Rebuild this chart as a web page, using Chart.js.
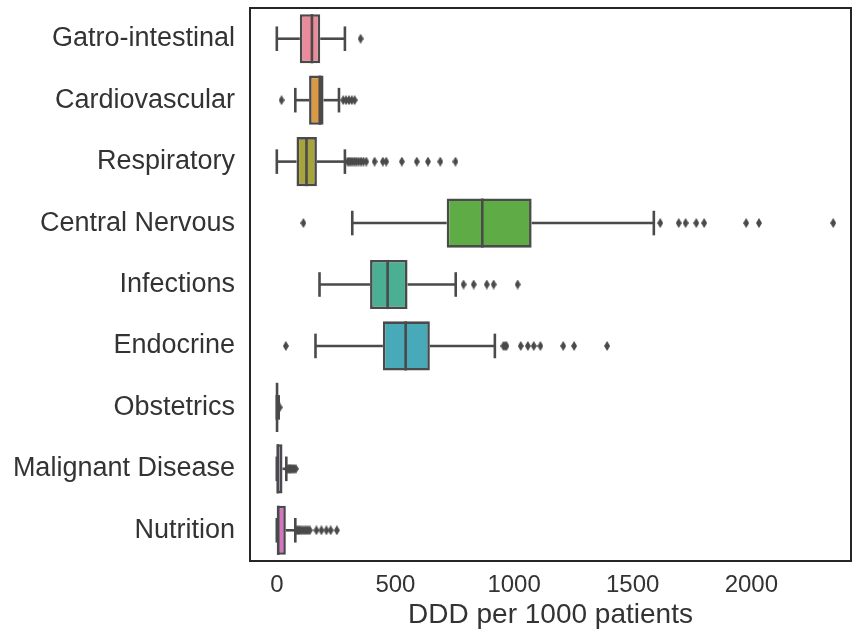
<!DOCTYPE html>
<html>
<head>
<meta charset="utf-8">
<script src="https://cdn.jsdelivr.net/npm/chart.js@4.4.1/dist/chart.umd.min.js"></script>
<style>
  html, body { margin: 0; padding: 0; background: #fff; }
  canvas { display: block; }
</style>
</head>
<body>
<canvas id="boxChart" width="856" height="634"></canvas>
<script>
// Categories and box statistics
var categories = ['Gatro-intestinal', 'Cardiovascular', 'Respiratory', 'Central Nervous',
    'Infections', 'Endocrine', 'Obstetrics', 'Malignant Disease', 'Nutrition'];
var whiskerLow  = [0,   78,  0,   318,  180, 163, 0, 0,  0];
var q1          = [97,  136, 83,  716,  393, 447, 0, 0,  0];
var median      = [148, 181, 125, 866,  467, 543, 1, 4,  6];
var q3          = [183, 197, 169, 1074, 551, 645, 4, 24, 38];
var whiskerHigh = [287, 262, 287, 1589, 754, 919, 8, 40, 78];
var outliers = [
    [353],
    [20, 280, 292, 304, 316, 328],
    [298, 305, 312, 320, 328, 336, 345, 355, 365, 377, 412, 447, 461, 527, 590, 637, 689, 753],
    [112, 1616, 1694, 1723, 1768, 1801, 1978, 2032, 2345],
    [787, 830, 885, 914, 1015],
    [38, 955, 962, 968, 1028, 1058, 1083, 1111, 1207, 1253, 1392],
    [12],
    [45, 50, 55, 60, 66, 72, 80],
    [83, 88, 94, 100, 107, 115, 123, 131, 139, 167, 188, 209, 227, 253]
];
var xTicks = [0, 500, 1000, 1500, 2000];

var boxColors = ['#ea8a9b', '#d99a45', '#a6a43d', '#5fab46', '#4aaf93',
    '#48aab8', '#6aa3dc', '#b08de0', '#d873c4'];
var lineColor = '#4a4a4a';
var fontFamily = '"Liberation Sans", Arial, sans-serif';

// thin diamond marker like matplotlib 'd'
function makeDiamond(w, h) {
    var c = document.createElement('canvas');
    c.width = w; c.height = h;
    var g = c.getContext('2d');
    g.fillStyle = lineColor;
    g.beginPath();
    g.moveTo(w / 2, 0);
    g.lineTo(w, h / 2);
    g.lineTo(w / 2, h);
    g.lineTo(0, h / 2);
    g.closePath();
    g.fill();
    return c;
}
var diamond = makeDiamond(6, 10);

var outlierPoints = [];
outliers.forEach(function (vals, i) {
    vals.forEach(function (v) {
        outlierPoints.push({ x: v, y: categories[i] });
    });
});

// whiskers, caps and medians drawn through the chart scales
var boxExtras = {
    id: 'boxExtras',
    afterDatasetsDraw: function (chart) {
        var ctx = chart.ctx;
        var xs = chart.scales.x, ys = chart.scales.y;
        var step = ys.getPixelForValue(1) - ys.getPixelForValue(0);
        var halfBox = step * 0.4, halfCap = step * 0.2;
        ctx.save();
        ctx.strokeStyle = lineColor;
        ctx.lineWidth = 2.6;
        ctx.lineCap = 'butt';
        categories.forEach(function (c, i) {
            var yc = ys.getPixelForValue(i);
            var pts = [
                [xs.getPixelForValue(whiskerLow[i]), yc, xs.getPixelForValue(q1[i]), yc],
                [xs.getPixelForValue(q3[i]), yc, xs.getPixelForValue(whiskerHigh[i]), yc],
                [xs.getPixelForValue(whiskerLow[i]), yc - halfCap, xs.getPixelForValue(whiskerLow[i]), yc + halfCap],
                [xs.getPixelForValue(whiskerHigh[i]), yc - halfCap, xs.getPixelForValue(whiskerHigh[i]), yc + halfCap],
                [xs.getPixelForValue(median[i]), yc - halfBox, xs.getPixelForValue(median[i]), yc + halfBox]
            ];
            pts.forEach(function (p) {
                ctx.beginPath();
                ctx.moveTo(p[0], p[1]);
                ctx.lineTo(p[2], p[3]);
                ctx.stroke();
            });
        });
        ctx.restore();
    },
    afterDraw: function (chart) {
        var a = chart.chartArea, ctx = chart.ctx;
        ctx.save();
        ctx.strokeStyle = '#262626';
        ctx.lineWidth = 2;
        ctx.strokeRect(a.left, a.top, a.right - a.left, a.bottom - a.top);
        ctx.restore();
    }
};

var ctx = document.getElementById('boxChart').getContext('2d');
var chart = new Chart(ctx, {
    data: {
        labels: categories,
        datasets: [{
            type: 'bar',
            indexAxis: 'y',
            data: categories.map(function (c, i) { return [q1[i], q3[i]]; }),
            backgroundColor: boxColors,
            borderColor: lineColor,
            borderWidth: 2.6,
            borderSkipped: false,
            barPercentage: 0.8,
            categoryPercentage: 1,
            grouped: false,
            order: 2
        }, {
            type: 'scatter',
            data: outlierPoints,
            pointStyle: diamond,
            pointRadius: 4,
            order: 1
        }]
    },
    options: {
        responsive: false,
        animation: false,
        indexAxis: 'y',
        layout: { padding: { top: 8, right: 3, left: 0, bottom: 0 } },
        plugins: { legend: { display: false }, tooltip: { enabled: false } },
        scales: {
            x: {
                type: 'linear',
                min: -113,
                max: 2420,
                grid: { display: false, drawTicks: false },
                border: { display: false },
                afterFit: function (s) {
                    s.height = 73;
                    s.paddingLeft = 0;
                    s.paddingRight = 0;
                },
                afterBuildTicks: function (s) {
                    s.ticks = xTicks.map(function (v) { return { value: v }; });
                },
                ticks: {
                    color: '#333333',
                    padding: 10,
                    font: { family: fontFamily, size: 24 },
                    callback: function (v) { return String(v); }
                },
                title: {
                    display: true,
                    text: 'DDD per 1000 patients',
                    color: '#333333',
                    padding: { top: 0, bottom: 2 },
                    font: { family: fontFamily, size: 28 }
                }
            },
            y: {
                type: 'category',
                grid: { display: false, drawTicks: false },
                border: { display: false },
                afterFit: function (s) {
                    s.width = 250;
                    s.paddingTop = 0;
                    s.paddingBottom = 0;
                },
                ticks: {
                    color: '#333333',
                    padding: 15,
                    font: { family: fontFamily, size: 27 }
                }
            }
        }
    },
    plugins: [boxExtras]
});
</script>
</body>
</html>
